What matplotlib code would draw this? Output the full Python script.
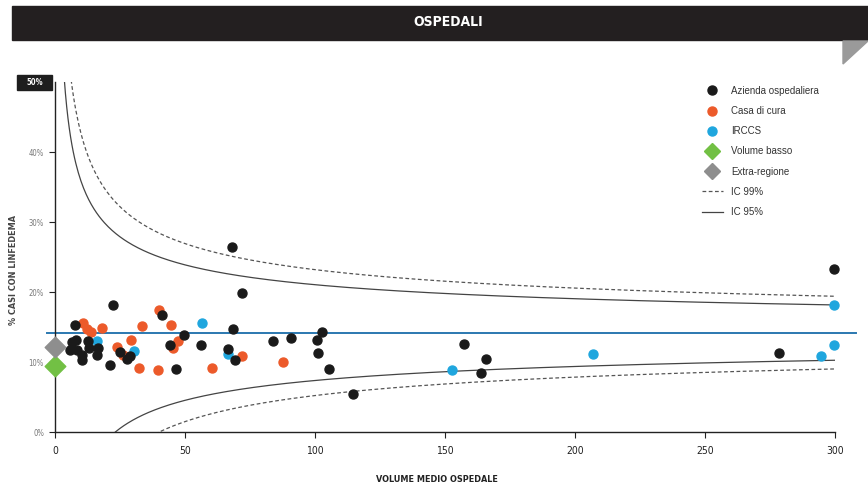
import numpy as np
import matplotlib.pyplot as plt
from matplotlib.lines import Line2D
from matplotlib.patches import Rectangle, Polygon

# hospitals by type: average volume and % of cases with lymphedema
ao_vol = [7.7, 22.2, 68.2, 71.8, 41.0, 299.7, 6.4, 8.1, 5.8, 8.6, 10.3, 10.3, 12.8, 13.2,
          16.7, 16.3, 21.2, 25.0, 27.8, 28.8, 44.2, 46.4, 49.7, 56.2, 66.4, 69.2, 68.6,
          83.7, 90.8, 100.6, 102.8, 101.0, 105.4, 114.5, 157.4, 165.9, 163.7, 278.5]
ao_pct = [15.3, 18.1, 26.4, 19.8, 16.7, 23.3, 12.9, 13.1, 11.7, 11.7, 11.0, 10.3, 13.0, 12.0,
          12.0, 11.0, 9.6, 11.5, 10.4, 10.8, 12.5, 9.0, 13.9, 12.5, 11.9, 10.3, 14.7,
          13.0, 13.5, 13.1, 14.3, 11.3, 9.0, 5.5, 12.6, 10.5, 8.5, 11.3]

cc_vol = [10.6, 12.2, 13.7, 18.0, 24.0, 26.0, 29.1, 32.3, 33.3, 39.5, 40.0, 44.6, 47.2,
          45.5, 60.5, 71.8, 87.8]
cc_pct = [15.6, 14.7, 14.3, 14.8, 12.2, 11.0, 13.1, 9.2, 15.1, 8.9, 17.4, 15.3, 13.0,
          12.0, 9.2, 10.9, 10.0]

ir_vol = [16.0, 30.5, 56.6, 66.6, 152.7, 207.0, 294.6, 299.7, 299.7]
ir_pct = [13.0, 11.6, 15.6, 11.1, 8.9, 11.2, 10.9, 12.5, 18.1]

low_vol, low_pct = [0], [9.4]
extra_vol, extra_pct = [0], [12.2]

mean_pct = 14.2

# funnel limits around the regional mean
n = np.linspace(1, 300, 600)
p = mean_pct / 100
se = np.sqrt(p * (1 - p) / n) * 100
z95, z99 = 1.96, 2.576

plt.rcParams['font.family'] = ['DejaVu Sans']
plt.rcParams['font.stretch'] = 'condensed'

fig = plt.figure(figsize=(8.68, 4.88), dpi=100)
ax = fig.add_axes([55 / 868, 1 - 432 / 488, 780 / 868, 350 / 488])

ax.plot(n, mean_pct + z99 * se, color='#555555', lw=0.9, ls=(0, (3, 2)))
ax.plot(n, mean_pct - z99 * se, color='#555555', lw=0.9, ls=(0, (3, 2)))
ax.plot(n, mean_pct + z95 * se, color='#444444', lw=0.9)
ax.plot(n, mean_pct - z95 * se, color='#444444', lw=0.9)
ax.plot([-3, 308], [mean_pct, mean_pct], color='#2b78b0', lw=1.4, clip_on=False, zorder=2)

ax.scatter(cc_vol, cc_pct, s=42, color='#ec5a2a', zorder=3, clip_on=False)
ax.scatter(ir_vol, ir_pct, s=42, color='#1fa6de', zorder=4, clip_on=False)
ax.scatter(ao_vol, ao_pct, s=42, color='#1a1a1a', zorder=5, clip_on=False)
ax.scatter(low_vol, low_pct, s=110, marker='D', color='#72c044', zorder=6, clip_on=False)
ax.scatter(extra_vol, extra_pct, s=110, marker='D', color='#8e8e8e', zorder=6, clip_on=False)

ax.set_xlim(0, 300)
ax.set_ylim(0, 50)
ax.set_xticks([0, 50, 100, 150, 200, 250, 300])
ax.set_yticks([0, 10, 20, 30, 40])
ax.set_yticklabels(['0%', '10%', '20%', '30%', '40%'])
ax.spines['top'].set_visible(False)
ax.spines['right'].set_visible(False)
for s in ['left', 'bottom']:
    ax.spines[s].set_color('#222222')
    ax.spines[s].set_linewidth(1.0)
ax.tick_params(axis='x', length=4, color='#222222', labelsize=7.5, labelcolor='#222222', pad=6)
ax.tick_params(axis='y', length=4, color='#222222', labelsize=5.5, labelcolor='#777777', pad=4)

fig.text(437 / 868, 1 - 479 / 488, 'VOLUME MEDIO OSPEDALE', fontsize=6.5, fontweight='bold',
         color='#222222', ha='center', va='center')
fig.text(14 / 868, 1 - 270 / 488, '% CASI CON LINFEDEMA', fontsize=6.5, fontweight='bold',
         color='#444444', ha='center', va='center', rotation=90)

# 50% tag at the top of the y axis
fig.patches.append(Rectangle((17 / 868, 1 - 90 / 488), 35 / 868, 15 / 488,
                             transform=fig.transFigure, color='#1e1e1e'))
fig.text(34.5 / 868, 1 - 82.5 / 488, '50%', color='white', fontsize=5.5, fontweight='bold',
         ha='center', va='center')

# header bar
fig.patches.append(Rectangle((12 / 868, 1 - 40 / 488), 856 / 868, 34 / 488,
                             transform=fig.transFigure, color='#231f20'))
fig.text(448 / 868, 1 - 22 / 488, 'OSPEDALI', color='white', fontsize=10, fontweight='bold',
         ha='center', va='center')
fig.patches.append(Polygon([(843 / 868, 1 - 41 / 488), (868 / 868, 1 - 41 / 488),
                            (843 / 868, 1 - 64 / 488)], closed=True,
                           transform=fig.transFigure, color='#9a9a9a'))

handles = [
    Line2D([], [], ls='none', marker='o', ms=6.5, color='#1a1a1a'),
    Line2D([], [], ls='none', marker='o', ms=6.5, color='#ec5a2a'),
    Line2D([], [], ls='none', marker='o', ms=6.5, color='#1fa6de'),
    Line2D([], [], ls='none', marker='D', ms=8, color='#72c044'),
    Line2D([], [], ls='none', marker='D', ms=8, color='#8e8e8e'),
    Line2D([], [], color='#555555', lw=0.9, ls=(0, (3, 2))),
    Line2D([], [], color='#444444', lw=0.9),
]
labels = ['Azienda ospedaliera', 'Casa di cura', 'IRCCS', 'Volume basso', 'Extra-regione',
          'IC 99%', 'IC 95%']
leg = fig.legend(handles, labels, loc='upper left', bbox_to_anchor=(693 / 868, 1 - 77 / 488),
                 frameon=False, fontsize=7, labelspacing=1.05, handlelength=2.2,
                 handletextpad=0.8)
for t in leg.get_texts():
    t.set_color('#333333')
    t.set_family(['Liberation Sans', 'DejaVu Sans'])

fig.savefig('out.png', dpi=100)
